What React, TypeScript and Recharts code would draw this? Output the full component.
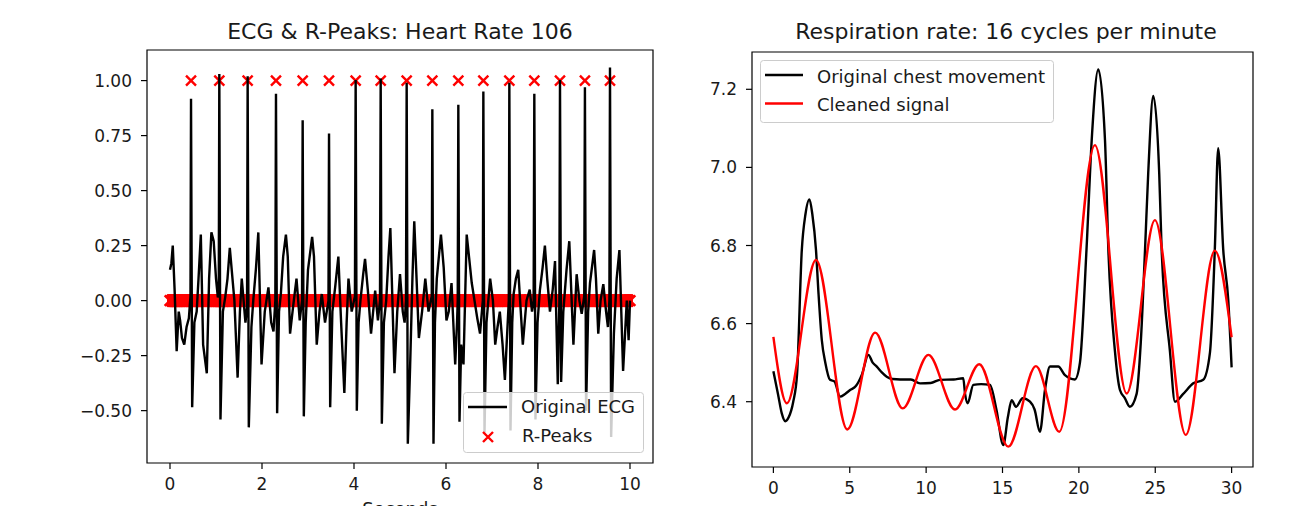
import React from 'react';
import { ComposedChart, Line, Scatter, XAxis, YAxis, ReferenceArea } from 'recharts';

// ---------- ECG panel data ----------
const ecgTime = [
  0.0, 0.03, 0.06, 0.1, 0.145, 0.19, 0.22, 0.26, 0.31, 0.36, 0.41, 0.445,
  0.457, 0.482, 0.53, 0.58, 0.62, 0.67, 0.72, 0.8, 0.85, 0.9, 0.95, 1.0, 1.04, 1.06,
  1.072, 1.097, 1.15, 1.2, 1.25, 1.3, 1.4, 1.47, 1.52, 1.56, 1.64, 1.675,
  1.688, 1.713, 1.77, 1.81, 1.87, 1.92, 1.99, 2.06, 2.14, 2.2, 2.25, 2.29,
  2.304, 2.329, 2.37, 2.41, 2.46, 2.52, 2.56, 2.61, 2.68, 2.75, 2.82, 2.87,
  2.884, 2.909, 2.95, 3.0, 3.09, 3.13, 3.19, 3.25, 3.3, 3.37, 3.445,
  3.457, 3.482, 3.53, 3.59, 3.66, 3.72, 3.79, 3.84, 3.88, 3.95, 4.02,
  4.036, 4.061, 4.1, 4.14, 4.2, 4.24, 4.3, 4.37, 4.46, 4.52, 4.565,
  4.58, 4.605, 4.65, 4.7, 4.75, 4.79, 4.88, 4.94, 5.0, 5.06, 5.1, 5.13,
  5.145, 5.17, 5.22, 5.27, 5.31, 5.36, 5.41, 5.48, 5.55, 5.62, 5.69,
  5.703, 5.728, 5.76, 5.8, 5.89, 5.95, 6.01, 6.06, 6.12, 6.2, 6.24, 6.255,
  6.268, 6.293, 6.33, 6.38, 6.45, 6.5, 6.56, 6.62, 6.68, 6.74, 6.8,
  6.812, 6.837, 6.88, 6.96, 7.02, 7.07, 7.12, 7.17, 7.23, 7.28, 7.365,
  7.377, 7.402, 7.44, 7.47, 7.52, 7.57, 7.67, 7.75, 7.82, 7.87, 7.905,
  7.92, 7.945, 7.99, 8.04, 8.1, 8.15, 8.2, 8.26, 8.32, 8.37, 8.43, 8.465,
  8.478, 8.503, 8.55, 8.62, 8.68, 8.77, 8.84, 8.9, 8.95, 9.005,
  9.02, 9.045, 9.09, 9.13, 9.22, 9.26, 9.31, 9.36, 9.42, 9.48, 9.52, 9.552,
  9.565, 9.59, 9.65, 9.71, 9.77, 9.85, 9.93, 9.97, 10.0,
];
const ecgSignal = [
  0.14, 0.17, 0.25, 0.05, -0.23, -0.05, -0.09, -0.17, -0.2, -0.12, -0.08, 0.02,
  0.917, -0.485, -0.1, -0.05, 0.1, 0.3, -0.2, -0.33, 0.1, 0.31, 0.27, 0.1, 0.015, 0.03,
  1.03, -0.54, -0.05, 0.015, 0.1, 0.24, 0.0, -0.35, -0.05, 0.1, -0.1, -0.03,
  1.02, -0.576, -0.12, 0.0, 0.15, 0.31, -0.29, -0.05, 0.06, -0.1, -0.14, 0.0,
  0.94, -0.512, -0.05, 0.03, 0.2, 0.3, 0.2, -0.15, -0.02, 0.1, -0.09, 0.0,
  0.82, -0.526, -0.1, 0.14, 0.29, 0.2, -0.2, -0.05, 0.03, -0.1, 0.0,
  0.76, -0.485, -0.05, 0.06, 0.2, -0.1, -0.42, -0.1, 0.1, -0.05, 0.02,
  1.003, -0.5, -0.1, 0.0, 0.12, 0.19, 0.05, -0.15, 0.045, -0.09, 0.0,
  1.01, -0.56, -0.1, 0.0, 0.2, 0.33, -0.33, -0.05, 0.12, -0.05, -0.1, 0.0,
  0.99, -0.65, -0.3, 0.1, 0.36, 0.1, -0.17, -0.05, 0.1, -0.05, 0.02,
  0.87, -0.65, -0.1, 0.1, 0.3, 0.15, -0.09, -0.05, 0.08, -0.29, -0.1, 0.0,
  0.89, -0.55, -0.2, -0.29, 0.3, 0.2, 0.08, 0.0, -0.08, -0.15, 0.0,
  0.95, -0.6, -0.1, 0.1, 0.0, -0.2, -0.12, -0.05, -0.2, -0.36, 0.0,
  0.99, -0.59, -0.1, 0.03, 0.1, 0.14, -0.2, 0.0, 0.05, -0.05, 0.0,
  0.94, -0.54, -0.1, 0.045, 0.15, 0.25, 0.1, -0.05, 0.05, 0.18, -0.38, 0.0,
  1.003, -0.37, -0.05, 0.14, 0.27, -0.2, 0.12, 0.0, -0.06, 0.02,
  0.97, -0.5, -0.05, 0.08, 0.23, 0.1, -0.15, 0.0, 0.075, -0.05, -0.12, 0.0,
  1.06, -0.62, -0.15, 0.1, 0.23, -0.32, 0.0, -0.18, 0.0,
];
const rPeakTimes = [
  0.457, 1.072, 1.688, 2.304, 2.884, 3.457, 4.036, 4.58, 5.145, 5.703, 6.268,
  6.812, 7.377, 7.92, 8.478, 9.02, 9.565,
];
const ecgTicksX = [0, 2, 4, 6, 8, 10];
const ecgTicksY = [-0.5, -0.25, 0, 0.25, 0.5, 0.75, 1.0];

// ---------- Respiration panel data ----------
const respTime = [
  0.0, 0.3, 0.55, 0.78, 1.0, 1.3, 1.55, 1.86, 2.1, 2.36, 2.55, 2.79, 2.95, 3.17,
  3.4, 3.71, 4.0, 4.36, 4.7, 5.02, 5.4, 5.8, 6.22, 6.5, 6.77, 7.1, 7.42, 7.8,
  8.3, 9.0, 9.6, 10.3, 10.9, 11.8, 12.43, 12.55, 12.72, 13.09, 13.6, 14.18,
  14.6, 15.05, 15.35, 15.6, 15.88, 16.32, 16.8, 17.1, 17.45, 17.78, 18.11,
  18.65, 19.09, 19.74, 20.07, 20.5, 20.84, 21.27, 21.71, 21.93, 22.36, 22.69,
  23.0, 23.34, 23.78, 24.05, 24.33, 24.54, 24.87, 25.26, 25.42, 25.96, 26.29,
  26.83, 27.49, 28.14, 28.58, 28.9, 29.12, 29.45, 29.78, 30.0,
];
const respRaw = [
  6.478, 6.42, 6.37, 6.35, 6.36, 6.4, 6.47, 6.788, 6.88, 6.918, 6.88, 6.788, 6.68, 6.558,
  6.5, 6.456, 6.452, 6.413, 6.42, 6.43, 6.44, 6.47, 6.52, 6.5, 6.49, 6.475, 6.464, 6.458,
  6.457, 6.457, 6.447, 6.448, 6.456, 6.457, 6.46, 6.42, 6.396, 6.443, 6.445, 6.443,
  6.38, 6.289, 6.36, 6.404, 6.387, 6.409, 6.4, 6.38, 6.323, 6.43, 6.49,
  6.49, 6.468, 6.457, 6.5, 6.79, 7.07, 7.251, 7.07, 6.79, 6.53, 6.43,
  6.41, 6.387, 6.42, 6.55, 6.788, 6.985, 7.183, 6.985, 6.788, 6.53, 6.4,
  6.42, 6.447, 6.456, 6.525, 6.79, 7.049, 6.79, 6.66, 6.488,
];
const cleanTime = [
  0.0, 0.88, 2.79, 4.84, 6.66, 8.47, 10.15, 11.89, 13.48, 15.38, 17.19, 18.72,
  21.05, 23.13, 24.98, 27.0, 28.9, 30.0,
];
const cleanSignal = [
  6.566, 6.396, 6.763, 6.329, 6.577, 6.383, 6.52, 6.38, 6.496, 6.285, 6.491, 6.323,
  7.057, 6.421, 6.865, 6.315, 6.787, 6.565,
];
const respTicksX = [0, 5, 10, 15, 20, 25, 30];
const respTicksY = [6.4, 6.6, 6.8, 7.0, 7.2];

// ---------- derived tables ----------
const ecgData = ecgTime.map((t, i) => ({ t, v: ecgSignal[i] }));
const peakSet = new Set(rPeakTimes);
const rPeakData = ecgTime.map((t) => ({ t, v: peakSet.has(t) ? 1 : 0 }));
const rawData = respTime.map((t, i) => ({ t, v: respRaw[i] }));
const cleanData = cleanTime.map((t, i) => ({ t, v: cleanSignal[i] }));

const FONT = 'DejaVu Sans, sans-serif';
const TEXT = '#1a1a1a';
const minus = (s: string) => s.replace('-', '\u2212');
const fmt2 = (v: number) => minus(v.toFixed(2));
const fmt1 = (v: number) => minus(v.toFixed(1));
const fmt0 = (v: number) => minus(String(v));

const XMark = (props: any) => {
  const { cx, cy, payload } = props;
  if (cx == null || cy == null) return null;
  const isZero = payload ? payload.v === 0 : props.v === 0;
  if (isZero) {
    // dense zero-valued samples: overlapping markers merge into a solid band
    const s = 5.3;
    return (
      <g>
        <rect x={cx - 3} y={cy - 6.5} width={6} height={13} fill="#ff0000" />
        <path
          d={`M${cx - s},${cy - s}L${cx + s},${cy + s}M${cx - s},${cy + s}L${cx + s},${cy - s}`}
          stroke="#ff0000"
          strokeWidth={2.6}
          fill="none"
        />
      </g>
    );
  }
  const s = 5;
  return (
    <path
      d={`M${cx - s},${cy - s}L${cx + s},${cy + s}M${cx - s},${cy + s}L${cx + s},${cy - s}`}
      stroke="#ff0000"
      strokeWidth={2.4}
      fill="none"
    />
  );
};

const tickStyle = { fill: TEXT, fontSize: 17, fontFamily: FONT };

const ECG_X: [number, number] = [-0.5, 10.5];
const ECG_Y: [number, number] = [-0.738, 1.139];
const RESP_X: [number, number] = [-1.4, 31.4];
const RESP_Y: [number, number] = [6.2328, 7.2955];

const ecgMargin = { top: 50, right: 7, bottom: 0, left: 0 };

export default function App() {
  return (
    <div
      style={{
        position: 'absolute',
        left: 0,
        top: 0,
        width: 1291,
        height: 506,
        overflow: 'hidden',
        background: '#ffffff',
        fontFamily: FONT,
      }}
    >
      {/* ECG panel, lower layer: R-peak markers (drawn beneath the ECG trace) */}
      <div style={{ position: 'absolute', left: 0, top: 0 }}>
        <ComposedChart width={660} height={506} margin={ecgMargin}>
          <XAxis
            type="number"
            dataKey="t"
            domain={ECG_X}
            ticks={ecgTicksX}
            allowDataOverflow
            height={43}
            axisLine={false}
            tickLine={false}
            tick={false}
          />
          <YAxis
            type="number"
            domain={ECG_Y}
            ticks={ecgTicksY}
            allowDataOverflow
            width={147}
            axisLine={false}
            tickLine={false}
            tick={false}
          />
          <Scatter
            name="R-Peaks"
            data={rPeakData}
            dataKey="v"
            shape={XMark}
            isAnimationActive={false}
          />
        </ComposedChart>
      </div>

      {/* ECG panel, upper layer: axes, frame and ECG trace */}
      <div style={{ position: 'absolute', left: 0, top: 0 }}>
        <ComposedChart width={660} height={506} margin={ecgMargin}>
          <XAxis
            type="number"
            dataKey="t"
            domain={ECG_X}
            ticks={ecgTicksX}
            interval={0}
            allowDataOverflow
            height={43}
            tickSize={6}
            tickMargin={9}
            axisLine={false}
            tickLine={{ stroke: '#000', strokeWidth: 1.2 }}
            tick={tickStyle}
            tickFormatter={fmt0}
          />
          <YAxis
            type="number"
            domain={ECG_Y}
            ticks={ecgTicksY}
            interval={0}
            allowDataOverflow
            width={147}
            tickSize={6}
            tickMargin={9}
            axisLine={false}
            tickLine={{ stroke: '#000', strokeWidth: 1.2 }}
            tick={tickStyle}
            tickFormatter={fmt2}
          />
          <ReferenceArea
            x1={ECG_X[0]}
            x2={ECG_X[1]}
            y1={ECG_Y[0]}
            y2={ECG_Y[1]}
            fill="none"
            stroke="#000"
            strokeWidth={1.2}
            ifOverflow="visible"
          />
          <Line
            name="Original ECG"
            data={ecgData}
            dataKey="v"
            type="linear"
            stroke="#000000"
            strokeWidth={2.4}
            dot={false}
            isAnimationActive={false}
          />
        </ComposedChart>
      </div>

      <div style={{ position: 'absolute', left: 690, top: 0 }}>
        <ComposedChart width={568} height={506} margin={{ top: 52, right: 5, bottom: 0, left: 0 }}>
          <XAxis
            type="number"
            dataKey="t"
            domain={RESP_X}
            ticks={respTicksX}
            interval={0}
            allowDataOverflow
            height={39}
            tickSize={6}
            tickMargin={9}
            axisLine={false}
            tickLine={{ stroke: '#000', strokeWidth: 1.2 }}
            tick={tickStyle}
            tickFormatter={fmt0}
          />
          <YAxis
            type="number"
            domain={RESP_Y}
            ticks={respTicksY}
            interval={0}
            allowDataOverflow
            width={62}
            tickSize={6}
            tickMargin={9}
            axisLine={false}
            tickLine={{ stroke: '#000', strokeWidth: 1.2 }}
            tick={tickStyle}
            tickFormatter={fmt1}
          />
          <ReferenceArea
            x1={RESP_X[0]}
            x2={RESP_X[1]}
            y1={RESP_Y[0]}
            y2={RESP_Y[1]}
            fill="none"
            stroke="#000"
            strokeWidth={1.2}
            ifOverflow="visible"
          />
          <Line
            name="Original chest movement"
            data={rawData}
            dataKey="v"
            type="monotone"
            stroke="#000000"
            strokeWidth={2.4}
            dot={false}
            isAnimationActive={false}
          />
          <Line
            name="Cleaned signal"
            data={cleanData}
            dataKey="v"
            type="monotone"
            stroke="#ff0000"
            strokeWidth={2.4}
            dot={false}
            isAnimationActive={false}
          />
        </ComposedChart>
      </div>

      <svg
        width={1291}
        height={506}
        style={{ position: 'absolute', left: 0, top: 0, pointerEvents: 'none' }}
        fontFamily={FONT}
      >
        <text x={400} y={39} fontSize={22} textAnchor="middle" fill={TEXT}>
          ECG &amp; R-Peaks: Heart Rate 106
        </text>
        <text x={1006} y={39} fontSize={22} textAnchor="middle" fill={TEXT}>
          Respiration rate: 16 cycles per minute
        </text>
        <text x={400} y={515} fontSize={18} textAnchor="middle" fill={TEXT}>
          Seconds
        </text>

        <rect x={463.5} y={392.5} width={180} height={60} rx={3} fill="#ffffff" fillOpacity={0.8} stroke="#cccccc" />
        <line x1={468} x2={507} y1={407} y2={407} stroke="#000" strokeWidth={2.4} />
        <text x={521} y={413} fontSize={18} fill={TEXT}>Original ECG</text>
        <path d="M483,432L493,442M483,442L493,432" stroke="#ff0000" strokeWidth={2.4} />
        <text x={522} y={442} fontSize={18} fill={TEXT}>R-Peaks</text>

        <rect x={760.5} y={60.5} width={293} height={62} rx={3} fill="#ffffff" fillOpacity={0.8} stroke="#cccccc" />
        <line x1={765} x2={803} y1={75} y2={75} stroke="#000" strokeWidth={2.4} />
        <text x={817} y={82.5} fontSize={18} fill={TEXT}>Original chest movement</text>
        <line x1={765} x2={803} y1={103.5} y2={103.5} stroke="#ff0000" strokeWidth={2.4} />
        <text x={817} y={110.8} fontSize={18} fill={TEXT}>Cleaned signal</text>
      </svg>
    </div>
  );
}
